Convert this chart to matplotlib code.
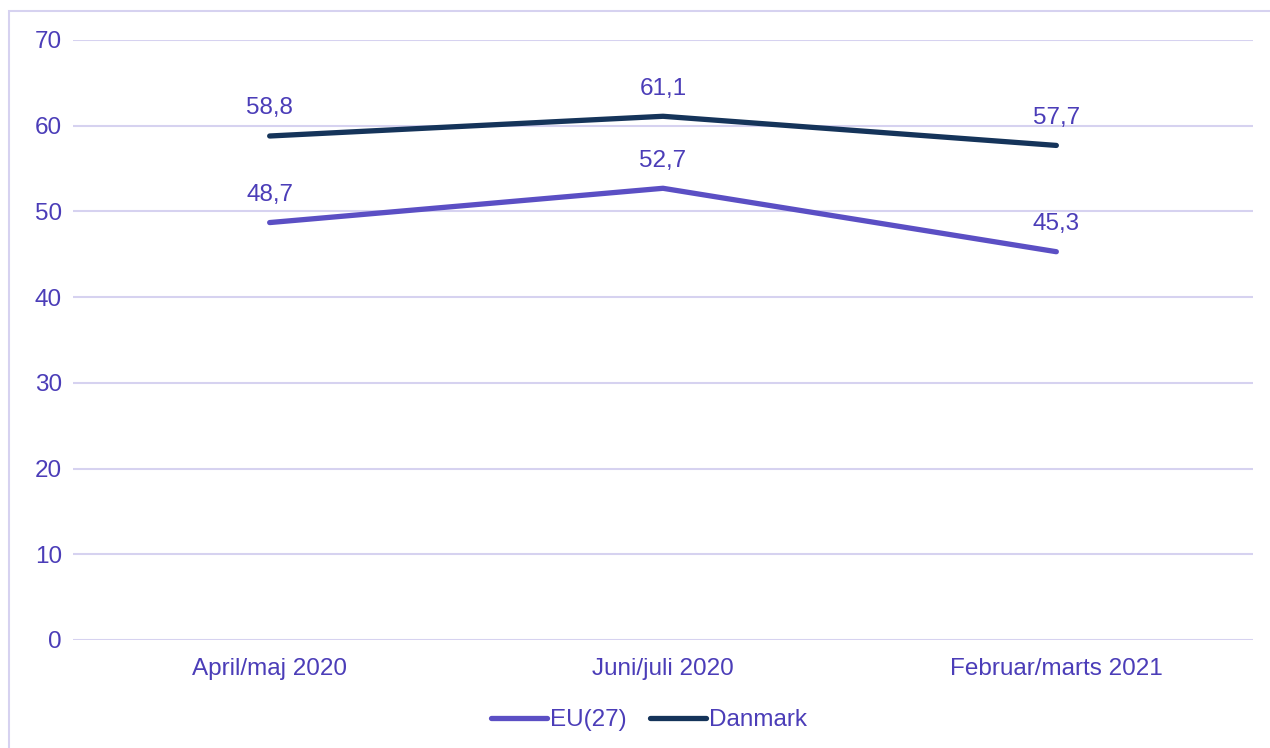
import matplotlib.pyplot as plt
from matplotlib.patches import Rectangle

plt.rcParams['font.family'] = ['Liberation Sans', 'DejaVu Sans']

categories = ["April/maj 2020", "Juni/juli 2020", "Februar/marts 2021"]
eu_values = [48.7, 52.7, 45.3]
dk_values = [58.8, 61.1, 57.7]
y_ticks = [0, 10, 20, 30, 40, 50, 60, 70]

text_col = "#4B3DB8"
grid_col = "#D6D2F0"
eu_col = "#5B4FC4"
dk_col = "#15345A"
fs = 17.5

fig = plt.figure(figsize=(12.7, 7.48), dpi=100)
ax = fig.add_axes([73 / 1270, 1 - 640 / 748, 1180 / 1270, 600 / 748])

# outer frame (only top and left visible in the original)
fig.patches.append(Rectangle((9 / 1270, -0.1), 1.2, (748 - 11) / 748 + 0.1,
                             transform=fig.transFigure, fill=False,
                             edgecolor=grid_col, linewidth=1.5))

x = range(len(categories))
ax.plot(x, eu_values, color=eu_col, lw=3.8, solid_capstyle='round', label="EU(27)")
ax.plot(x, dk_values, color=dk_col, lw=3.8, solid_capstyle='round', label="Danmark")

for series in (eu_values, dk_values):
    for i, v in enumerate(series):
        ax.annotate(f"{v:.1f}".replace(".", ","), (i, v), xytext=(0, 12),
                    textcoords="offset points", ha="center", va="bottom",
                    color=text_col, fontsize=fs)

ax.set_xlim(-0.5, len(categories) - 0.5)
ax.set_ylim(0, 70)
ax.set_yticks(y_ticks)
ax.set_xticks(list(x))
ax.set_xticklabels(categories)
ax.tick_params(axis='both', length=0, colors=text_col, labelsize=fs)
ax.tick_params(axis='y', pad=8)
ax.tick_params(axis='x', pad=13)
ax.grid(axis='y', color=grid_col, lw=1.5)
ax.set_axisbelow(True)
for s in ax.spines.values():
    s.set_visible(False)

fig.legend(loc="center", bbox_to_anchor=(649 / 1270, 1 - 720 / 748), ncol=2, frameon=False,
           fontsize=fs, labelcolor=text_col, handlelength=2.3, handletextpad=0.1,
           columnspacing=1.0)

fig.savefig("out.png", dpi=100)
